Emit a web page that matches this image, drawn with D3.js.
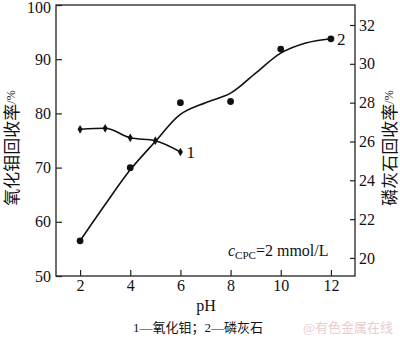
<!DOCTYPE html>
<html>
<head>
<meta charset="utf-8">
<script src="https://cdn.jsdelivr.net/npm/d3@7"></script>
<style>
  html, body { margin: 0; padding: 0; background: #fff; }
  svg { display: block; }
  text { font-family: "Liberation Serif", "Times New Roman", "Noto Sans CJK SC", serif; fill: #111; }
</style>
</head>
<body>
<svg id="chart" width="400" height="340"></svg>
<script>
// ---- data ----
const pHTicks = [2, 4, 6, 8, 10, 12];
const leftTicks = [50, 60, 70, 80, 90, 100];
const rightTicks = [20, 22, 24, 26, 28, 30, 32];

// series 1: molybdenum oxide recovery (left axis)
const pH1 = [2, 3, 4, 5, 6];
const moOxideRecovery = [77.07, 77.25, 75.5, 74.96, 72.88];

// series 2: apatite recovery (right axis) measured points
const pH2 = [2, 4, 6, 8, 10, 12];
const apatiteRecovery = [20.88, 24.65, 28.0, 28.06, 30.76, 31.29];

// series 2 fitted curve
const pH2Fit = [2, 3, 4, 5, 6, 7, 8, 9, 10, 11, 12];
const apatiteFit = [20.88, 22.75, 24.54, 26.0, 27.4, 28.0, 28.49, 29.52, 30.55, 31.07, 31.29];

const seriesLabels = ["1", "2"];
const xTitle = "pH";
const leftTitle = "氧化钼回收率";
const rightTitle = "磷灰石回收率";
const caption = "1—氧化钼；2—磷灰石";
const watermark = "@有色金属在线";

// ---- layout ----
const L = 56, R = 355, T = 5, B = 276;
const svg = d3.select("#chart");

const x = d3.scaleLinear().domain([1.04, 12.96]).range([L, R]);
const yL = d3.scaleLinear().domain([50, 100]).range([B, T]);
const yR = d3.scaleLinear().domain([19.07, 33.03]).range([B, T]);

// frame
svg.append("rect").attr("x", L).attr("y", T).attr("width", R - L).attr("height", B - T)
  .attr("fill", "none").attr("stroke", "#222").attr("stroke-width", 1.3);

const fontSize = 16;

// axes
const gx = svg.append("g").attr("transform", `translate(0,${B})`)
  .call(d3.axisBottom(x).tickValues(pHTicks).tickSizeInner(-6).tickSizeOuter(0).tickPadding(4).tickFormat(d3.format("d")));
const gl = svg.append("g").attr("transform", `translate(${L},0)`)
  .call(d3.axisLeft(yL).tickValues(leftTicks).tickSizeInner(-6).tickSizeOuter(0).tickPadding(5).tickFormat(d3.format("d")));
const gr = svg.append("g").attr("transform", `translate(${R},0)`)
  .call(d3.axisRight(yR).tickValues(rightTicks).tickSizeInner(-5).tickSizeOuter(0).tickPadding(4).tickFormat(d3.format("d")));

[gx, gl, gr].forEach(g => {
  g.select(".domain").remove();
  g.selectAll(".tick line").attr("stroke", "#222").attr("stroke-width", 1.2);
  g.selectAll(".tick text").attr("font-size", fontSize).attr("fill", "#111")
    .attr("font-family", "'Liberation Serif', 'Times New Roman', serif");
});
// keep the top label inside the picture
gl.selectAll(".tick text").filter(d => d === 100).attr("y", 2);

// series 1 curve
const line1 = d3.line().x((d, i) => x(pH1[i])).y(d => yL(d)).curve(d3.curveMonotoneX);
svg.append("path").datum(moOxideRecovery).attr("d", line1)
  .attr("fill", "none").attr("stroke", "#111").attr("stroke-width", 1.6);
svg.selectAll(".m1").data(moOxideRecovery).enter().append("path")
  .attr("transform", (d, i) => `translate(${x(pH1[i])},${yL(d)})`)
  .attr("d", d3.symbol().type(d3.symbolDiamond).size(22)).attr("fill", "#111");

// series 2 fitted curve
const line2 = d3.line().x((d, i) => x(pH2Fit[i])).y(d => yR(d)).curve(d3.curveCatmullRom.alpha(0.5));
svg.append("path").datum(apatiteFit).attr("d", line2)
  .attr("fill", "none").attr("stroke", "#111").attr("stroke-width", 1.6);
svg.selectAll(".m2").data(apatiteRecovery).enter().append("circle")
  .attr("cx", (d, i) => x(pH2[i])).attr("cy", d => yR(d)).attr("r", 3.4).attr("fill", "#111");

// series labels
svg.append("text").attr("x", x(pH1[pH1.length - 1]) + 6).attr("y", yL(moOxideRecovery[moOxideRecovery.length - 1]) + 6)
  .attr("font-size", 17).text(seriesLabels[0]);
svg.append("text").attr("x", x(pH2[pH2.length - 1]) + 6).attr("y", yR(apatiteRecovery[apatiteRecovery.length - 1]) + 6)
  .attr("font-size", 17).text(seriesLabels[1]);

// condition annotation
const ann = svg.append("text").attr("x", 228).attr("y", 256).attr("font-size", fontSize);
ann.append("tspan").attr("font-style", "italic").text("c");
ann.append("tspan").attr("font-size", 11).attr("dy", 3).text("CPC");
ann.append("tspan").attr("dy", -3).text("=2 mmol/L");

// axis titles
svg.append("text").attr("x", 206).attr("y", 311).attr("text-anchor", "middle").attr("font-size", fontSize).text(xTitle);

const lt = svg.append("text").attr("transform", "translate(18,148) rotate(-90)").attr("text-anchor", "middle")
  .attr("font-size", 17).attr("font-family", "'Noto Sans CJK SC', serif");
lt.append("tspan").text(leftTitle);
lt.append("tspan").attr("font-size", 12).attr("font-family", "'Liberation Serif', serif").attr("dy", -3).text("/%");

const rt = svg.append("text").attr("transform", "translate(396,148) rotate(-90)").attr("text-anchor", "middle")
  .attr("font-size", 17).attr("font-family", "'Noto Sans CJK SC', serif");
rt.append("tspan").text(rightTitle);
rt.append("tspan").attr("font-size", 12).attr("font-family", "'Liberation Serif', serif").attr("dy", -3).text("/%");

// caption
svg.append("text").attr("x", 198).attr("y", 332).attr("text-anchor", "middle").attr("font-size", 13)
  .attr("font-family", "'Noto Sans CJK SC', serif").text(caption);

// watermark
svg.append("text").attr("x", 393).attr("y", 332).attr("text-anchor", "end").attr("font-size", 13)
  .attr("font-family", "'Noto Sans CJK SC', sans-serif").style("fill", "#e9cccc").text(watermark);
</script>
</body>
</html>
